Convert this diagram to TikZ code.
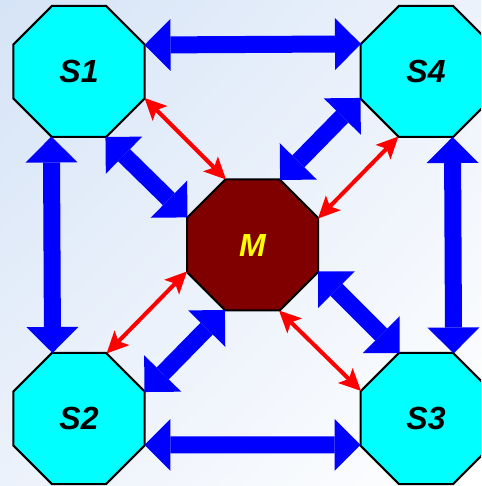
\documentclass[tikz,border=0pt]{standalone}
\usepackage{fontspec}
\setmainfont{Liberation Sans}
\usetikzlibrary{arrows.meta,positioning,shapes.geometric,shadings}

\definecolor{bgblue}{RGB}{214,228,247}
\definecolor{bgpale}{RGB}{236,242,251}
\definecolor{darkred}{RGB}{128,0,0}
\definecolor{aqua}{RGB}{0,255,255}
\definecolor{pureblue}{RGB}{0,0,255}
\definecolor{purered}{RGB}{255,0,0}
\definecolor{pureyellow}{RGB}{255,255,0}

\begin{document}
\begin{tikzpicture}[
      x=1pt, y=1pt,
      on grid,
      octa/.style={draw, line width=2pt, regular polygon, regular polygon sides=8, minimum size=141.8pt,
        inner sep=0pt, outer sep=0pt, font=\fontsize{32}{36}\selectfont\bfseries\itshape},
      slave/.style={octa, fill=aqua},
      master/.style={octa, fill=darkred, text=pureyellow},
      bus/.style={line width=17pt, pureblue,
        {Triangle[width=52pt,length=26pt,line width=0pt]}-{Triangle[width=52pt,length=26pt,line width=0pt]}},
      link/.style={line width=4pt, purered,
        {Stealth[width=21pt,length=22pt,inset=5pt,line width=0pt]}-{Stealth[width=21pt,length=22pt,inset=5pt,line width=0pt]}}
    ]
      \useasboundingbox (0,0) rectangle (481,486);
      \shade[upper left=bgblue, upper right=bgpale, lower left=bgpale, lower right=white] (0,0) rectangle (481,486);
      \clip (0,0) rectangle (481,486);

      \node[master] (m) at (252.5,241) {M};
      \node[slave, above left=173.5pt and 173.5pt of m] (s1) {S1};
      \node[slave, above right=173.5pt and 173.5pt of m] (s4) {S4};
      \node[slave, below left=173.5pt and 173.5pt of m] (s2) {S2};
      \node[slave, below right=173.5pt and 173.5pt of m] (s3) {S3};

      % ring between the slaves
      \draw[bus] (s1.22.5) -- (s4.157.5);
      \draw[bus] (s2.-22.5) -- (s3.202.5);
      \draw[bus] (s1.247.5) -- (s2.112.5);
      \draw[bus] (s4.292.5) -- (s3.67.5);

      % slaves to master
      \draw[bus] (s1.292.5) -- (m.157.5);
      \draw[bus] (s4.202.5) -- (m.67.5);
      \draw[bus] (s2.22.5) -- (m.247.5);
      \draw[bus] (s3.112.5) -- (m.-22.5);

      \draw[link] (s1.-22.5) -- (m.112.5);
      \draw[link] (s4.247.5) -- (m.22.5);
      \draw[link] (s2.67.5) -- (m.202.5);
      \draw[link] (s3.157.5) -- (m.292.5);
\end{tikzpicture}
\end{document}
